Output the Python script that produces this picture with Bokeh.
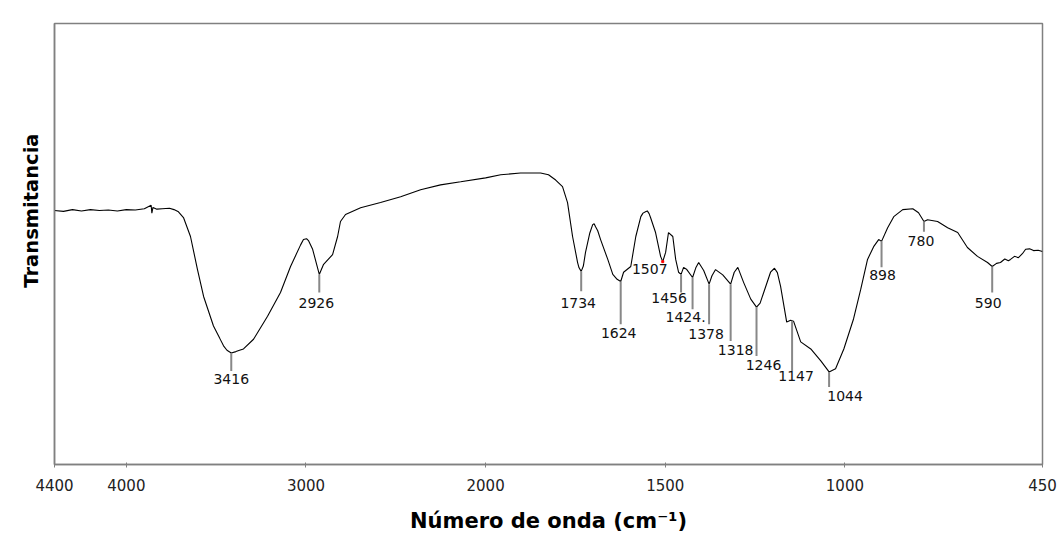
import numpy as np
from bokeh.plotting import figure
from bokeh.models import Range1d, FixedTicker, Title, ColumnDataSource
from bokeh.core.properties import value
from bokeh.embed import file_html
from bokeh.resources import INLINE

# ---------------- data ----------------
wavenumber = [4400, 4350, 4300, 4250, 4200, 4150, 4100, 4050, 4000, 3950, 3900, 3862, 3858, 3852,
              3830, 3800, 3760, 3735, 3710, 3682, 3643, 3604, 3570, 3515, 3480, 3459, 3440, 3416,
              3390, 3370, 3348, 3292, 3214, 3142, 3086, 3030, 3014, 2997, 2985, 2963, 2926, 2902,
              2852, 2824, 2808, 2780, 2696, 2585, 2473, 2362, 2251, 2139, 2000,
              1958, 1903, 1847, 1825, 1805, 1786, 1772, 1758, 1744, 1740, 1734, 1728, 1722, 1710,
              1702, 1698, 1694, 1688, 1680, 1660, 1646, 1634, 1624, 1616, 1596, 1582, 1568, 1562,
              1555, 1550, 1545, 1541, 1527, 1513, 1507, 1499, 1491, 1479, 1471, 1463, 1456, 1449,
              1440, 1424, 1415, 1407, 1393, 1378, 1370, 1360, 1340, 1318, 1308, 1298, 1282, 1262,
              1246, 1236, 1226, 1207, 1196, 1188, 1179, 1162, 1151, 1143, 1123, 1095, 1067, 1044,
              1026, 1003, 976, 956, 937, 920, 906, 898, 881, 864, 839, 811, 795, 780, 770, 742,
              714, 686, 659, 631, 603, 590, 578, 567, 555, 545, 539, 528, 517, 506, 497, 486,
              475, 462, 450]
transmittance = [57.6, 57.4, 57.8, 57.5, 57.8, 57.6, 57.7, 57.5, 57.8, 57.7, 58.0, 58.8, 57.0, 58.3,
                 57.9, 58.0, 58.1, 57.8, 57.3, 56.0, 51.7, 44.2, 38.1, 31.4, 28.6, 26.9, 25.9, 25.3,
                 25.6, 25.9, 26.2, 28.4, 33.6, 39.0, 44.9, 49.8, 51.0, 51.2, 50.7, 48.8, 43.1, 45.4,
                 47.6, 51.7, 55.1, 56.7, 58.2, 59.4, 60.7, 62.3, 63.4, 64.1, 65.0,
                 65.7, 66.1, 66.1, 65.7, 64.5, 63.0, 59.4, 51.7, 45.8, 44.6, 43.8, 45.0, 48.1, 52.5,
                 54.4, 54.6, 53.9, 53.0, 51.0, 46.5, 43.1, 42.0, 41.5, 43.6, 44.9, 51.7, 56.2, 57.0,
                 57.3, 57.5, 56.9, 56.0, 52.6, 47.2, 46.0, 48.1, 52.6, 51.7, 46.5, 43.6, 43.1, 44.7,
                 44.2, 42.4, 44.6, 45.8, 44.0, 40.9, 42.8, 44.2, 43.0, 40.9, 43.6, 44.7, 41.3, 37.5,
                 35.7, 36.6, 39.0, 43.6, 44.5, 43.5, 40.4, 32.3, 32.7, 32.5, 27.8, 26.2, 23.5, 21.0,
                 21.7, 26.2, 33.0, 39.7, 46.5, 49.4, 51.0, 50.6, 53.7, 56.2, 57.8, 58.0, 57.1, 55.1,
                 55.5, 55.1, 53.7, 52.6, 49.2, 47.2, 45.8, 44.9, 45.6, 45.8, 46.6, 46.2, 46.5, 47.2,
                 46.9, 47.8, 48.8, 48.9, 48.5, 48.6, 48.3]

peak_labels = ["3416", "2926", "1734", "1624", "1456", "1424.", "1378", "1318", "1246",
               "1147", "1044", "898", "780", "590"]
peak_wn = [3416, 2926, 1734, 1624, 1456, 1424, 1378, 1318, 1246, 1147, 1044, 898, 780, 590]
peak_T = [25.3, 43.1, 43.8, 41.5, 43.1, 42.4, 40.9, 40.9, 35.7, 32.6, 21.0, 50.6, 55.1, 44.9]
marker_end_T = [21.2, 39.0, 39.3, 31.8, 39.0, 35.2, 31.8, 28.0, 24.6, 21.2, 17.6, 44.7, 52.8, 39.0]

unmarked_label = "1507"
unmarked_wn = 1507
unmarked_T = 46.0

tick_wn = [4400, 4000, 3000, 2000, 1500, 1000, 450]
tick_text = ["4400", "4000", "3000", "2000", "1500", "1000", "450"]

# ---------------- layout / style ----------------
label_dx = [0, -3, -3, -2, -12, -7, -3, 5, 7, 4, 16, 1, -3, -4]
label_dy = [8, 10, 12, 9, 5, 8, 10, 9, 9, 5, 9, 8, 9, 10]


def axis_pos(w):
    """Split wavenumber axis: 2x expansion below 2000 cm-1."""
    w = np.asarray(w, dtype=float)
    return np.where(w >= 2000, 4400 - w, 2400 + 2 * (2000 - w))


p = figure(width=1058, height=535, output_backend="svg", toolbar_location=None,
           x_range=Range1d(0, 5500), y_range=Range1d(0, 100),
           min_border_left=54, min_border_right=16, min_border_top=23, min_border_bottom=69)
p.background_fill_color = "white"
p.border_fill_color = "white"
p.outline_line_color = "#808080"
p.outline_line_width = 1.5
p.grid.visible = False

# spectrum
p.line(axis_pos(wavenumber), transmittance, line_color="black", line_width=1.1)

# peak markers
mk = ColumnDataSource(dict(x=axis_pos(peak_wn), y0=peak_T, y1=marker_end_T,
                           text=peak_labels, dx=label_dx, dy=label_dy))
p.segment(x0="x", y0="y0", x1="x", y1="y1", source=mk, line_color="#888888", line_width=2)
p.text(x="x", y="y1", text="text", x_offset="dx", y_offset="dy", source=mk,
       text_align="center", text_baseline="middle", text_font=value("DejaVu Sans"),
       text_font_size="14px", text_color="#111111")

p.scatter([float(axis_pos(unmarked_wn))], [unmarked_T], size=2, marker="square",
          color="red", line_color="red")
p.text(x=[float(axis_pos(unmarked_wn))], y=[unmarked_T], text=[unmarked_label],
       x_offset=-13, y_offset=7, text_align="center", text_baseline="middle",
       text_font=value("DejaVu Sans"), text_font_size="14px", text_color="#111111")

# x axis
tick_pos = [int(v) for v in axis_pos(tick_wn)]
xa = p.xaxis[0]
xa.ticker = FixedTicker(ticks=tick_pos)
xa.major_label_overrides = {k: t for k, t in zip(tick_pos, tick_text)}
xa.minor_tick_line_color = None
xa.major_tick_in = 2
xa.major_tick_out = 3
xa.major_tick_line_color = "#808080"
xa.axis_line_color = "#808080"
xa.axis_line_width = 1.5
xa.major_label_standoff = 11
xa.major_label_text_font = "DejaVu Sans"
xa.major_label_text_font_size = "15px"
xa.major_label_text_color = "#222222"
xa.axis_label = "Número de onda (cm⁻¹)"
xa.axis_label_text_font = "DejaVu Sans"
xa.axis_label_text_font_style = "bold"
xa.axis_label_text_font_size = "21px"
xa.axis_label_text_color = "black"
xa.axis_label_standoff = 15

# y axis (no ticks)
ya = p.yaxis[0]
ya.ticker = FixedTicker(ticks=[])
ya.minor_tick_line_color = None
ya.major_tick_line_color = None
ya.axis_line_color = "#808080"
ya.axis_line_width = 1.5

ytitle = Title(text="Transmitancia", align="right", offset=110, standoff=23,
               text_font="DejaVu Sans", text_font_style="bold", text_font_size="19.5px",
               text_color="black")
p.add_layout(ytitle, "left")

open("out.html", "w").write(file_html(p, INLINE))
